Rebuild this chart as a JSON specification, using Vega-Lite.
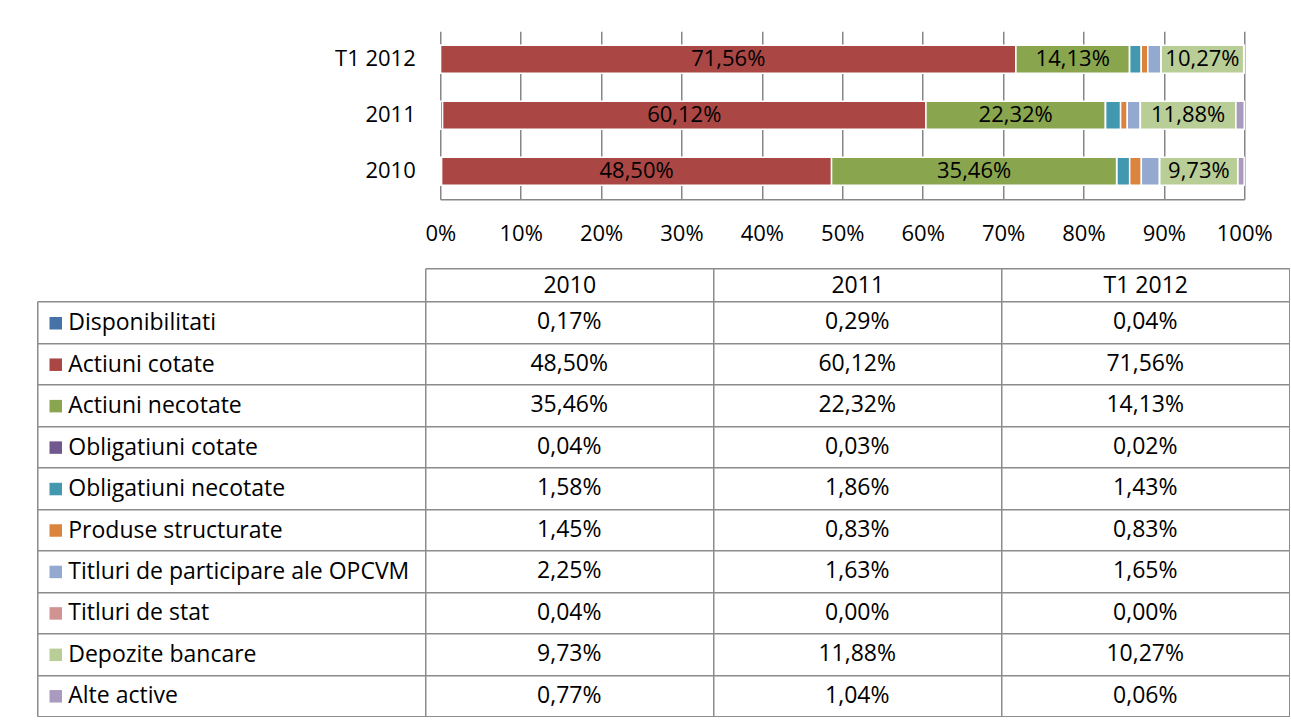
{
  "$schema": "https://vega.github.io/schema/vega-lite/v6.json",
  "padding": {"left": 36.25, "top": 31.25, "right": 0, "bottom": 0},
  "background": "white",
  "bounds": "flush",
  "spacing": 102,
  "config": {
    "locale": {"number": {"decimal": ",", "thousands": ".", "grouping": [3], "currency": ["", " €"]}},
    "view": {"stroke": null},
    "font": "Open Sans",
    "axis": {"labelFont": "Open Sans", "labelColor": "black", "title": null}
  },
  "datasets": {
    "d": [
      {"cat": "Disponibilitati", "i": 1, "year": "2010", "v": 0.0017},
      {"cat": "Disponibilitati", "i": 1, "year": "2011", "v": 0.0029},
      {"cat": "Disponibilitati", "i": 1, "year": "T1 2012", "v": 0.0004},
      {"cat": "Actiuni cotate", "i": 2, "year": "2010", "v": 0.4850},
      {"cat": "Actiuni cotate", "i": 2, "year": "2011", "v": 0.6012},
      {"cat": "Actiuni cotate", "i": 2, "year": "T1 2012", "v": 0.7156},
      {"cat": "Actiuni necotate", "i": 3, "year": "2010", "v": 0.3546},
      {"cat": "Actiuni necotate", "i": 3, "year": "2011", "v": 0.2232},
      {"cat": "Actiuni necotate", "i": 3, "year": "T1 2012", "v": 0.1413},
      {"cat": "Obligatiuni cotate", "i": 4, "year": "2010", "v": 0.0004},
      {"cat": "Obligatiuni cotate", "i": 4, "year": "2011", "v": 0.0003},
      {"cat": "Obligatiuni cotate", "i": 4, "year": "T1 2012", "v": 0.0002},
      {"cat": "Obligatiuni necotate", "i": 5, "year": "2010", "v": 0.0158},
      {"cat": "Obligatiuni necotate", "i": 5, "year": "2011", "v": 0.0186},
      {"cat": "Obligatiuni necotate", "i": 5, "year": "T1 2012", "v": 0.0143},
      {"cat": "Produse structurate", "i": 6, "year": "2010", "v": 0.0145},
      {"cat": "Produse structurate", "i": 6, "year": "2011", "v": 0.0083},
      {"cat": "Produse structurate", "i": 6, "year": "T1 2012", "v": 0.0083},
      {"cat": "Titluri de participare ale OPCVM", "i": 7, "year": "2010", "v": 0.0225},
      {"cat": "Titluri de participare ale OPCVM", "i": 7, "year": "2011", "v": 0.0163},
      {"cat": "Titluri de participare ale OPCVM", "i": 7, "year": "T1 2012", "v": 0.0165},
      {"cat": "Titluri de stat", "i": 8, "year": "2010", "v": 0.0004},
      {"cat": "Titluri de stat", "i": 8, "year": "2011", "v": 0.0000},
      {"cat": "Titluri de stat", "i": 8, "year": "T1 2012", "v": 0.0000},
      {"cat": "Depozite bancare", "i": 9, "year": "2010", "v": 0.0973},
      {"cat": "Depozite bancare", "i": 9, "year": "2011", "v": 0.1188},
      {"cat": "Depozite bancare", "i": 9, "year": "T1 2012", "v": 0.1027},
      {"cat": "Alte active", "i": 10, "year": "2010", "v": 0.0077},
      {"cat": "Alte active", "i": 10, "year": "2011", "v": 0.0104},
      {"cat": "Alte active", "i": 10, "year": "T1 2012", "v": 0.0006}
    ]
  },
  "vconcat": [
    {
      "width": 864,
      "height": 168,
      "data": {"name": "d"},
      "layer": [
        {
          "mark": {"type": "bar", "stroke": "white", "strokeWidth": 1.5},
          "encoding": {
            "x": {
              "field": "v", "type": "quantitative", "stack": "zero",
              "scale": {"domain": [0, 1], "range": [15, 819], "nice": false, "zero": true},
              "axis": {
                "values": [0, 0.1, 0.2, 0.3, 0.4, 0.5, 0.6, 0.7, 0.8, 0.9, 1],
                "format": ".0%", "grid": true, "gridColor": "#868686", "gridWidth": 1.5, "gridOpacity": 1,
                "domain": true, "domainColor": "#868686", "domainWidth": 1.5,
                "ticks": false, "labelFontSize": 22, "labelPadding": 24, "labelFlush": false, "title": null
              }
            },
            "y": {
              "field": "year", "type": "nominal", "sort": ["T1 2012", "2011", "2010"],
              "scale": {"paddingInner": 0.5, "paddingOuter": 0.25},
              "axis": {"domain": false, "ticks": false, "grid": false, "labelFontSize": 22, "labelPadding": 10, "title": null}
            },
            "color": {
              "field": "cat", "type": "nominal",
              "scale": {
                "domain": ["Disponibilitati", "Actiuni cotate", "Actiuni necotate", "Obligatiuni cotate", "Obligatiuni necotate", "Produse structurate", "Titluri de participare ale OPCVM", "Titluri de stat", "Depozite bancare", "Alte active"],
                "range": ["#4572A7", "#AA4643", "#89A54E", "#71588F", "#4198AF", "#DB843D", "#93A9CF", "#D19392", "#B9CD96", "#A99BBD"]
              },
              "legend": {
                "orient": "none", "legendX": -381, "legendY": 280.5, "title": null,
                "symbolType": "square", "symbolSize": 156, "symbolStrokeWidth": 0, "symbolOpacity": 1,
                "labelFont": "Open Sans", "labelFontSize": 23, "labelColor": "black", "labelLimit": 500,
                "labelOffset": 1, "rowPadding": 17.45, "padding": 0
              }
            },
            "order": {"field": "i", "type": "quantitative"}
          }
        },
        {
          "transform": [
            {"stack": "v", "groupby": ["year"], "sort": [{"field": "i", "order": "ascending"}], "as": ["v0", "v1"]},
            {"filter": {"field": "cat", "oneOf": ["Actiuni cotate", "Actiuni necotate", "Depozite bancare"]}},
            {"fold": ["v0", "v1"], "as": ["k", "p"]}
          ],
          "mark": {"type": "text", "font": "Open Sans", "fontSize": 22, "color": "black"},
          "encoding": {
            "x": {"field": "p", "aggregate": "mean", "type": "quantitative", "title": null},
            "y": {"field": "year", "type": "nominal", "sort": ["T1 2012", "2011", "2010"]},
            "detail": {"field": "cat"},
            "text": {"field": "v", "type": "quantitative", "format": ".2%"}
          }
        }
      ]
    },
    {
      "width": 864,
      "height": 415,
      "data": {"name": "d"},
      "mark": {"type": "text", "font": "Open Sans", "fontSize": 23, "color": "black"},
      "encoding": {
        "x": {
          "field": "year", "type": "nominal", "sort": ["2010", "2011", "T1 2012"],
          "scale": {"paddingInner": 0, "paddingOuter": 0},
          "axis": {
            "orient": "top", "offset": 33, "tickBand": "extent", "tickSize": -33, "ticks": true,
            "tickColor": "#8c8c8c", "tickWidth": 1.5, "domain": true, "domainColor": "#8c8c8c", "domainWidth": 1.5,
            "grid": true, "gridColor": "#8c8c8c", "gridWidth": 1.5, "gridOpacity": 1,
            "labelFontSize": 23, "labelPadding": 16, "labelBaseline": "middle", "labelAngle": 0, "title": null
          }
        },
        "y": {
          "field": "cat", "type": "nominal",
          "sort": ["Disponibilitati", "Actiuni cotate", "Actiuni necotate", "Obligatiuni cotate", "Obligatiuni necotate", "Produse structurate", "Titluri de participare ale OPCVM", "Titluri de stat", "Depozite bancare", "Alte active"],
          "scale": {"paddingInner": 0, "paddingOuter": 0},
          "axis": {
            "orient": "left", "offset": 388, "tickBand": "extent", "tickSize": -388, "ticks": true,
            "tickColor": "#8c8c8c", "tickWidth": 1.5, "domain": true, "domainColor": "#8c8c8c", "domainWidth": 1.5,
            "grid": true, "gridColor": "#8c8c8c", "gridWidth": 1.5, "gridOpacity": 1,
            "labels": false, "title": null
          }
        },
        "text": {"field": "v", "type": "quantitative", "format": ".2%"}
      }
    }
  ]
}
